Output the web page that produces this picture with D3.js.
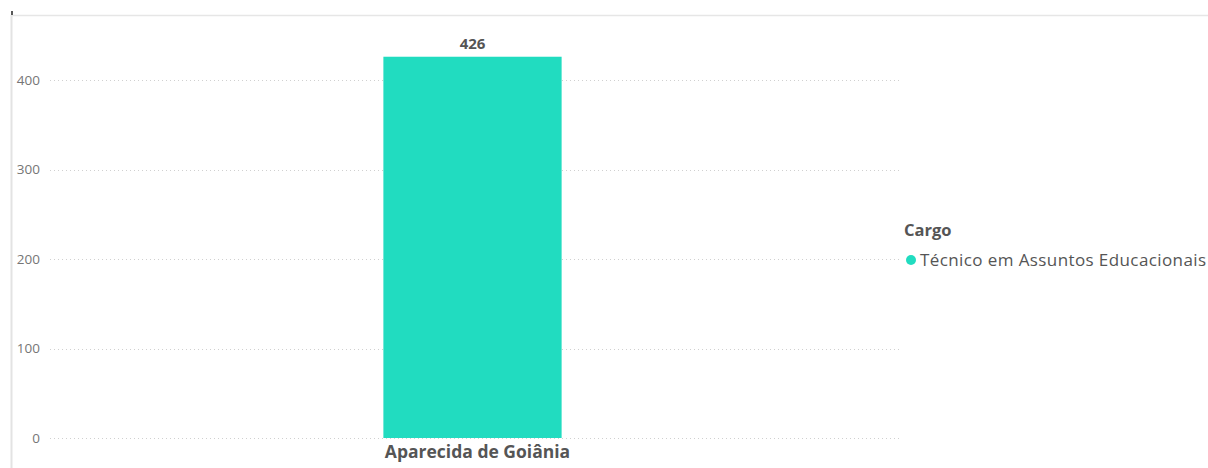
<!DOCTYPE html>
<html>
<head>
<meta charset="utf-8">
<script src="https://cdn.jsdelivr.net/npm/d3@7"></script>
<style>
  body { margin: 0; background: #fff; }
  text { font-family: "Open Sans", "Noto Sans", sans-serif; }
</style>
</head>
<body>
<div id="chart"></div>
<script>
// chart data
var categories = ["Aparecida de Goiânia"]
var values = [426]
var yTicks = [0, 100, 200, 300, 400]
var legendTitle = "Cargo"
var seriesName = "Técnico em Assuntos Educacionais"

var widthSvg = 1208
var heightSvg = 468
var barColor = "#21dcc0"

var svg = d3.select("#chart")
  .append("svg")
  .attr("width", widthSvg)
  .attr("height", heightSvg)

// frame lines (left and top)
svg.append("line")
  .attr("x1", 11.5).attr("x2", 11.5)
  .attr("y1", 15).attr("y2", heightSvg)
  .attr("stroke", "#e3e3e3").attr("stroke-width", 2)
svg.append("line")
  .attr("x1", 11).attr("x2", widthSvg)
  .attr("y1", 15.5).attr("y2", 15.5)
  .attr("stroke", "#e6e6e6").attr("stroke-width", 1.5)
svg.append("line")
  .attr("x1", 12).attr("x2", 12)
  .attr("y1", 11).attr("y2", 15)
  .attr("stroke", "#222").attr("stroke-width", 1.5)

// scales
var y = d3.scaleLinear()
  .domain([0, 400])
  .range([438, 80])

var x = d3.scaleBand()
  .domain(categories)
  .range([45, 900])
  .padding(0.655)

// gridlines
svg.selectAll(".grid")
  .data(yTicks)
  .enter()
  .append("line")
  .attr("class", "grid")
  .attr("x1", 50).attr("x2", 900)
  .attr("y1", function(d) { return Math.round(y(d)) + 0.5 })
  .attr("y2", function(d) { return Math.round(y(d)) + 0.5 })
  .attr("stroke", "#d0d0d0")
  .attr("stroke-dasharray", "1,3")

// y axis labels
var yAxis = d3.axisLeft(y).tickValues(yTicks).tickSize(0).tickPadding(0)
var gy = svg.append("g")
  .attr("transform", "translate(40,0)")
  .call(yAxis)
gy.select(".domain").remove()
gy.selectAll("text")
  .attr("fill", "#767676")
  .style("font-size", "13.5px")
  .attr("font-family", "'Open Sans', sans-serif")

// bars
svg.selectAll(".bar")
  .data(values)
  .enter()
  .append("rect")
  .attr("class", "bar")
  .attr("x", function(d, i) { return x(categories[i]) })
  .attr("y", function(d) { return y(d) })
  .attr("width", x.bandwidth())
  .attr("height", function(d) { return y(0) - y(d) })
  .attr("fill", barColor)

// data labels
svg.selectAll(".val")
  .data(values)
  .enter()
  .append("text")
  .attr("class", "val")
  .attr("x", function(d, i) { return x(categories[i]) + x.bandwidth() / 2 })
  .attr("y", function(d) { return y(d) - 8 })
  .attr("text-anchor", "middle")
  .attr("fill", "#555")
  .style("font-size", "15px")
  .style("font-weight", "bold")
  .text(function(d) { return d })

// x axis labels
var xAxis = d3.axisBottom(x).tickSize(0).tickPadding(0)
var gx = svg.append("g")
  .attr("transform", "translate(5,446)")
  .call(xAxis)
gx.select(".domain").remove()
gx.selectAll("text")
  .attr("fill", "#555")
  .attr("dy", "0.71em")
  .style("font-size", "17.5px")
  .style("font-weight", "bold")
  .attr("font-family", "'Open Sans', sans-serif")

// legend
svg.append("text")
  .attr("x", 904).attr("y", 236)
  .attr("fill", "#555")
  .style("font-size", "16.5px")
  .style("font-weight", "bold")
  .text(legendTitle)
svg.append("circle")
  .attr("cx", 911).attr("cy", 260).attr("r", 5)
  .attr("fill", barColor)
svg.append("text")
  .attr("x", 920).attr("y", 266)
  .attr("fill", "#555")
  .style("font-size", "17px")
  .style("letter-spacing", "0.4px")
  .text(seriesName)
</script>
</body>
</html>
